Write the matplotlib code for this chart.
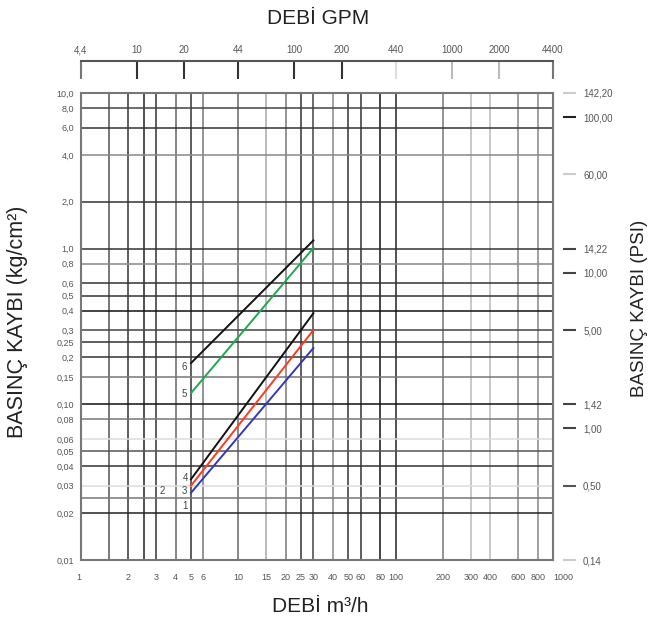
import matplotlib.pyplot as plt
from matplotlib.ticker import NullLocator

plt.rcParams['font.family'] = ['Liberation Sans', 'DejaVu Sans']

# === Data: pressure loss (kg/cm2) vs flow (m3/h) ===
flow = [5, 30]
loss_6 = [0.184, 1.13]   # black, upper
loss_5 = [0.118, 1.01]   # green
loss_4 = [0.033, 0.385]  # black, lower
loss_3 = [0.030, 0.30]   # red
loss_1 = [0.027, 0.23]   # blue (1 and 2)

# curve tags and where they sit (flow, loss)
tag_text = ['6', '5', '4', '3', '2', '1']
tag_flow = [4.5, 4.5, 4.6, 4.55, 3.3, 4.55]
tag_loss = [0.175, 0.116, 0.0336, 0.0276, 0.0277, 0.0222]

# === Axis grids / tick labels ===
x_grid = [1, 1.5, 2, 2.5, 3, 4, 5, 6, 10, 15, 20, 25, 30, 40, 50, 60, 80,
          100, 200, 300, 400, 600, 800, 1000]
x_labels = ['1', '', '2', '', '3', '4', '5', '6', '10', '15', '20', '25', '30',
            '40', '50', '60', '80', '100', '200', '300', '400', '600', '800', '1000']
y_grid = [0.01, 0.02, 0.025, 0.03, 0.04, 0.05, 0.06, 0.08, 0.1, 0.15, 0.2,
          0.25, 0.3, 0.4, 0.5, 0.6, 0.8, 1, 2, 4, 6, 8, 10]
y_labels = ['0,01', '0,02', '', '0,03', '0,04', '0,05', '0,06', '0,08', '0,10',
            '0,15', '0,2', '0,25', '0,3', '0,4', '0,5', '0,6', '0,8', '1,0',
            '2,0', '4,0', '6,0', '8,0', '10,0']

gpm_ticks = [4.403, 10, 20, 44, 100, 200, 440, 1000, 2000, 4403]
gpm_labels = ['4,4', '10', '20', '44', '100', '200', '440', '1000', '2000', '4400']

# PSI marks as they sit against the kg/cm2 scale
psi_at_kg = [10, 7.0, 3.0, 1.0, 0.7, 0.3, 0.1, 0.07, 0.03, 0.01]
psi_labels = ['142,20', '100,00', '60,00', '14,22', '10,00', '5,00',
              '1,42', '1,00', '0,50', '0,14']

# === Styles ===
x_grid_colors = ['#777', '#555', '#333', '#222', '#333', '#666', '#333', '#777',
                 '#666', '#aaa', '#777', '#333', '#444', '#888', '#333', '#333',
                 '#111', '#222', '#777', '#bbb', '#bbb', '#888', '#888', '#777']
y_grid_colors = ['#777', '#222', '#777', '#ddd', '#333', '#555', '#ddd', '#777',
                 '#111', '#777', '#333', '#333', '#444', '#111', '#333', '#333',
                 '#888', '#333', '#333', '#888', '#333', '#444', '#777']
gpm_colors = ['#777', '#333', '#333', '#333', '#333', '#333', '#ddd', '#bbb',
              '#bbb', '#777']
psi_colors = ['#ccc', '#222', '#ccc', '#444', '#444', '#444', '#444', '#444',
              '#555', '#ccc']

W, H = 654, 626
fig = plt.figure(figsize=(W / 100, H / 100), dpi=100)
ax = fig.add_axes([81 / W, 1 - 560 / H, (553 - 81) / W, (560 - 93) / H])

ax.set_xscale('log')
ax.set_yscale('log')
ax.set_xlim(1, 1000)
ax.set_ylim(0.01, 10)

ax.set_xticks(x_grid, x_labels)
ax.set_yticks(y_grid, y_labels)
ax.xaxis.set_minor_locator(NullLocator())
ax.yaxis.set_minor_locator(NullLocator())
ax.tick_params(length=0, labelsize=6.5, labelcolor='#555')
ax.tick_params(axis='x', pad=9)
ax.tick_params(axis='y', pad=5)
xt = ax.get_xticklabels()
xt[0].set_ha('right')
xt[-1].set_ha('left')

ax.grid(True, lw=1.1)
for t, c in zip(ax.xaxis.get_major_ticks(), x_grid_colors):
    t.gridline.set_color(c)
for t, c in zip(ax.yaxis.get_major_ticks(), y_grid_colors):
    t.gridline.set_color(c)
for s in ax.spines.values():
    s.set_color('#777')
    s.set_linewidth(1.5)

# curves
ax.plot(flow, loss_6, color='#111', lw=1.4)
ax.plot(flow, loss_5, color='#1fa84f', lw=1.4)
ax.plot(flow, loss_4, color='#111', lw=1.4)
ax.plot(flow, loss_3, color='#ff3a1e', lw=1.4)
ax.plot(flow, loss_1, color='#3438b8', lw=1.4)
for txt, fx, fy in zip(tag_text, tag_flow, tag_loss):
    ax.text(fx, fy, txt, fontsize=7, color='#444', ha='center', va='center')

# === Top GPM scale (thin axes above the chart) ===
ax_top = fig.add_axes([81 / W, 1 - 61 / H, (553 - 81) / W, 1e-4])
ax_top.set_xscale('log')
ax_top.set_xlim(4.403, 4403)
ax_top.set_yticks([])
ax_top.xaxis.tick_top()
ax_top.set_xticks(gpm_ticks, gpm_labels)
ax_top.xaxis.set_minor_locator(NullLocator())
ax_top.tick_params(axis='x', direction='in', length=13, width=1.5,
                   labelsize=7, labelcolor='#555', pad=4)
for t, c in zip(ax_top.xaxis.get_major_ticks(), gpm_colors):
    t.tick2line.set_markeredgecolor(c)
for name, s in ax_top.spines.items():
    s.set_visible(name == 'top')
    s.set_color('#555')
    s.set_linewidth(1.5)

# === Right PSI scale (thin axes right of the chart) ===
ax_r = fig.add_axes([563 / W, 1 - 560 / H, 1e-4, (560 - 93) / H])
ax_r.set_yscale('log')
ax_r.set_ylim(0.01, 10)
ax_r.set_xticks([])
ax_r.yaxis.tick_right()
ax_r.set_yticks(psi_at_kg, psi_labels)
ax_r.yaxis.set_minor_locator(NullLocator())
ax_r.tick_params(axis='y', direction='out', length=9.4, width=1.5,
                 labelsize=7, labelcolor='#555', pad=5)
for t, c in zip(ax_r.yaxis.get_major_ticks(), psi_colors):
    t.tick2line.set_markeredgecolor(c)
for s in ax_r.spines.values():
    s.set_visible(False)

# === Axis titles ===
fig.text(318 / W, 1 - 18 / H, 'DEBİ GPM', ha='center', va='center',
         fontsize=15, color='#222')
fig.text(320 / W, 1 - 607 / H, 'DEBİ m³/h', ha='center', va='center',
         fontsize=15, color='#222')
fig.text(18 / W, 1 - 322 / H, 'BASINÇ KAYBI (kg/cm²)', ha='center',
         va='center', rotation=90, fontsize=15.5, color='#222')
fig.text(640 / W, 1 - 308 / H, 'BASINÇ KAYBI (PSI)', ha='center',
         va='center', rotation=90, fontsize=13.5, color='#222')

fig.savefig('out.png', dpi=100)
